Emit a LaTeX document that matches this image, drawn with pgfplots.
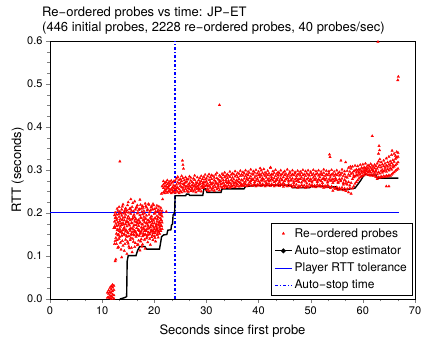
\documentclass[border=0pt]{standalone}
\usepackage{pgfplots}
\pgfplotsset{compat=1.18}
\usepackage{pgfplotstable}
\usepackage{fontspec}
\setmainfont{TeX Gyre Heros}
\definecolor{probered}{RGB}{255,0,0}

\pgfplotstableread{
x a b c d e
11.00 0.003 0.015 nan nan nan
11.25 0.004 0.012 0.020 nan nan
11.50 0.002 0.008 0.016 0.026 nan
11.75 0.006 0.014 0.022 0.030 0.000
12.00 0.003 0.010 0.018 0.027 0.033
12.25 0.001 0.009 0.021 0.031 0.165
12.50 0.088 0.135 0.165 0.188 0.201
12.75 0.128 0.152 0.170 0.183 0.196
13.00 0.119 0.148 0.162 0.178 0.205
13.25 0.140 0.158 0.175 0.191 0.214
13.50 0.131 0.155 0.168 0.186 0.199
13.75 0.097 0.147 0.172 0.194 0.208
14.00 0.124 0.160 0.177 0.189 0.220
14.25 0.112 0.151 0.166 0.183 0.203
14.50 0.138 0.157 0.174 0.196 0.211
14.75 0.105 0.145 0.169 0.181 0.206
15.00 0.129 0.153 0.178 0.192 0.225
15.25 0.118 0.162 0.171 0.187 0.209
15.50 0.142 0.149 0.165 0.198 0.232
15.75 0.109 0.156 0.176 0.185 0.214
16.00 0.133 0.150 0.168 0.193 0.204
16.25 0.121 0.159 0.180 0.190 0.227
16.50 0.145 0.154 0.172 0.186 0.212
16.75 0.125 0.148 0.175 0.199 0.218
17.00 0.136 0.161 0.170 0.184 0.207
17.25 0.113 0.152 0.179 0.195 0.231
17.50 0.139 0.157 0.166 0.188 0.210
17.75 0.127 0.146 0.173 0.197 0.216
18.00 0.148 0.163 0.182 0.191 0.205
18.25 0.117 0.151 0.169 0.186 0.222
18.50 0.141 0.158 0.177 0.194 0.213
18.75 0.132 0.149 0.171 0.183 0.208
19.00 0.150 0.164 0.178 0.196 0.219
19.25 0.126 0.155 0.167 0.189 0.206
19.50 0.144 0.160 0.181 0.192 0.215
19.75 0.137 0.153 0.170 0.185 0.221
20.00 0.146 0.162 0.176 0.198 0.209
20.25 0.134 0.157 0.168 0.187 0.203
20.50 0.149 0.165 0.180 0.193 0.217
20.75 0.143 0.156 0.173 0.190 0.207
21.00 0.152 0.166 0.179 0.197 0.200
21.25 0.158 0.170 0.184 0.195 0.212
21.50 0.163 0.178 0.192 0.205 0.262
}\early

\pgfplotstableread{
x a b c d
12.375 0.168 0.180 0.195 0.128
12.625 0.142 0.175 0.190 0.092
12.875 0.160 0.186 0.210 0.137
13.125 0.150 0.171 0.197 0.121
13.375 0.145 0.181 0.203 0.163
13.625 0.158 0.176 0.200 0.115
13.875 0.153 0.184 0.215 0.135
14.125 0.149 0.173 0.199 0.164
14.375 0.161 0.190 0.207 0.128
14.625 0.147 0.179 0.202 0.160
14.875 0.155 0.187 0.218 0.133
15.125 0.146 0.174 0.201 0.122
15.375 0.159 0.183 0.211 0.137
15.625 0.151 0.177 0.205 0.119
15.875 0.163 0.188 0.223 0.140
16.125 0.148 0.172 0.196 0.157
16.375 0.156 0.185 0.208 0.130
16.625 0.150 0.179 0.214 0.165
16.875 0.160 0.182 0.201 0.127
17.125 0.147 0.176 0.209 0.158
17.375 0.154 0.189 0.219 0.134
17.625 0.161 0.174 0.203 0.122
17.875 0.152 0.184 0.212 0.166
18.125 0.158 0.178 0.199 0.138
18.375 0.149 0.187 0.216 0.160
18.625 0.163 0.175 0.206 0.145
18.875 0.155 0.183 0.221 0.168
19.125 0.151 0.179 0.202 0.140
19.375 0.160 0.186 0.213 0.172
19.625 0.148 0.176 0.208 0.158
19.875 0.157 0.182 0.218 0.166
20.125 0.153 0.188 0.200 0.142
20.375 0.161 0.174 0.211 0.169
20.625 0.150 0.185 0.204 0.160
20.875 0.158 0.178 0.215 0.171
21.125 0.162 0.188 0.206 0.175
21.375 0.170 0.183 0.199 0.245
}\earlymid

\pgfplotstableread{
x a b c d
21.75 0.248 0.258 0.266 0.274
22.00 0.252 0.261 0.269 0.246
22.25 0.255 0.263 0.272 0.250
22.50 0.247 0.259 0.267 0.276
22.75 0.251 0.262 0.270 0.257
23.00 0.254 0.265 0.273 0.249
23.25 0.246 0.256 0.268 0.275
23.50 0.253 0.260 0.271 0.248
23.75 0.250 0.264 0.274 0.258
24.00 0.247 0.262 0.275 0.256
24.25 0.252 0.266 0.280 0.258
24.50 0.249 0.259 0.271 0.284
24.75 0.255 0.268 0.277 0.246
25.00 0.251 0.263 0.279 0.270
25.25 0.248 0.260 0.274 0.286
25.50 0.254 0.267 0.281 0.259
25.75 0.250 0.264 0.276 0.269
26.00 0.256 0.271 0.283 0.261
26.25 0.252 0.262 0.273 0.279
26.50 0.249 0.266 0.278 0.258
26.75 0.255 0.269 0.285 0.263
27.00 0.251 0.260 0.275 0.282
27.25 0.257 0.265 0.272 0.254
27.50 0.250 0.268 0.280 0.261
27.75 0.254 0.263 0.277 0.287
28.00 0.248 0.259 0.271 0.266
28.25 0.256 0.270 0.283 0.262
28.50 0.252 0.264 0.276 0.258
28.75 0.255 0.267 0.281 0.271
29.00 0.250 0.261 0.274 0.286
29.25 0.258 0.269 0.279 0.263
29.50 0.259 0.266 0.284 0.272
29.75 0.262 0.271 0.278 0.289
30.00 0.253 0.265 0.280 0.273
30.25 0.256 0.268 0.285 0.262
30.50 0.251 0.263 0.277 0.290
30.75 0.259 0.272 0.283 0.266
31.00 0.254 0.267 0.279 0.288
31.25 0.257 0.270 0.286 0.261
31.50 0.252 0.264 0.276 0.282
31.75 0.260 0.273 0.289 0.268
32.00 0.255 0.269 0.281 0.293
32.25 0.258 0.266 0.278 0.263
32.50 0.253 0.271 0.287 0.275
32.75 0.261 0.274 0.284 0.267
33.00 0.259 0.268 0.280 0.291
33.25 0.262 0.276 0.288 0.270
33.50 0.258 0.265 0.283 0.294
33.75 0.263 0.272 0.286 0.277
34.00 0.260 0.269 0.281 0.290
34.25 0.264 0.275 0.287 0.271
34.50 0.259 0.270 0.284 0.296
34.75 0.262 0.277 0.289 0.266
35.00 0.261 0.273 0.282 0.292
35.25 0.265 0.278 0.290 0.270
35.50 0.260 0.271 0.285 0.297
35.75 0.263 0.276 0.288 0.268
36.00 0.266 0.274 0.283 0.293
36.25 0.261 0.279 0.291 0.272
36.50 0.264 0.270 0.286 0.298
36.75 0.262 0.277 0.289 0.267
37.00 0.265 0.275 0.287 0.295
37.25 0.263 0.280 0.292 0.270
37.50 0.267 0.273 0.286 0.299
37.75 0.262 0.278 0.290 0.282
38.00 0.266 0.276 0.288 0.296
38.25 0.264 0.281 0.293 0.271
38.50 0.268 0.274 0.285 0.301
38.75 0.263 0.279 0.291 0.277
39.00 0.265 0.277 0.289 0.297
39.25 0.267 0.282 0.294 0.272
39.50 0.262 0.275 0.286 0.300
39.75 0.266 0.280 0.292 0.278
40.00 0.264 0.274 0.288 0.296
40.25 0.268 0.283 0.290 0.271
40.50 0.263 0.276 0.287 0.299
40.75 0.267 0.281 0.293 0.275
41.00 0.265 0.278 0.289 0.302
41.25 0.262 0.273 0.286 0.294
41.50 0.266 0.282 0.291 0.270
41.75 0.264 0.277 0.288 0.298
42.00 0.268 0.280 0.292 0.274
42.25 0.263 0.275 0.287 0.305
42.50 0.267 0.283 0.290 0.279
42.75 0.265 0.276 0.289 0.297
43.00 0.262 0.281 0.293 0.272
43.25 0.266 0.274 0.286 0.300
43.50 0.264 0.279 0.291 0.277
43.75 0.268 0.282 0.288 0.295
44.00 0.263 0.275 0.292 0.271
44.25 0.267 0.280 0.287 0.299
44.50 0.265 0.277 0.290 0.276
44.75 0.261 0.283 0.294 0.270
45.00 0.266 0.274 0.288 0.297
45.25 0.264 0.279 0.291 0.278
45.50 0.262 0.281 0.286 0.301
45.75 0.267 0.276 0.289 0.273
46.00 0.263 0.282 0.293 0.296
46.25 0.265 0.275 0.287 0.277
46.50 0.260 0.280 0.290 0.299
46.75 0.264 0.273 0.288 0.270
47.00 0.261 0.278 0.292 0.295
47.25 0.266 0.281 0.286 0.274
47.50 0.259 0.276 0.289 0.298
47.75 0.263 0.272 0.291 0.279
48.00 0.260 0.279 0.287 0.296
48.25 0.265 0.282 0.293 0.271
48.50 0.261 0.275 0.288 0.300
48.75 0.264 0.280 0.290 0.276
49.00 0.259 0.273 0.286 0.297
49.25 0.263 0.278 0.292 0.269
49.50 0.260 0.281 0.289 0.299
49.75 0.266 0.276 0.287 0.274
50.00 0.262 0.279 0.293 0.296
50.25 0.265 0.274 0.288 0.271
50.50 0.261 0.282 0.291 0.300
50.75 0.264 0.277 0.286 0.278
51.00 0.260 0.280 0.290 0.297
51.25 0.266 0.275 0.292 0.272
51.50 0.262 0.278 0.287 0.299
51.75 0.265 0.283 0.289 0.276
52.00 0.261 0.274 0.291 0.296
52.25 0.264 0.279 0.288 0.270
52.50 0.259 0.281 0.293 0.301
52.75 0.263 0.276 0.286 0.277
53.00 0.260 0.280 0.290 0.298
53.25 0.265 0.273 0.288 0.271
53.50 0.261 0.278 0.292 0.297
53.75 0.258 0.282 0.287 0.275
54.00 0.262 0.275 0.289 0.300
54.25 0.252 0.279 0.291 0.270
54.50 0.259 0.274 0.286 0.296
54.75 0.256 0.281 0.290 0.277
55.00 0.260 0.276 0.288 0.299
55.25 0.254 0.272 0.292 0.270
55.50 0.258 0.279 0.287 0.295
55.75 0.255 0.274 0.289 0.276
56.00 0.259 0.280 0.293 0.301
56.25 0.253 0.270 0.286 0.266
56.50 0.257 0.277 0.290 0.297
56.75 0.251 0.268 0.284 0.273
57.00 0.256 0.266 0.282 0.298
57.25 0.248 0.272 0.289 0.305
57.50 0.258 0.264 0.286 0.296
57.75 0.245 0.270 0.291 0.303
58.00 0.257 0.279 0.293 0.308
58.25 0.262 0.283 0.297 0.287
58.50 0.268 0.285 0.299 0.310
58.75 0.272 0.288 0.301 0.294
59.00 0.276 0.287 0.298 0.309
59.25 0.280 0.291 0.302 0.295
59.50 0.283 0.289 0.300 0.312
59.75 0.285 0.293 0.305 0.297
60.00 0.287 0.296 0.303 0.313
60.25 0.288 0.294 0.306 0.299
60.50 0.292 0.298 0.304 0.315
60.75 0.290 0.297 0.307 0.301
61.00 0.289 0.295 0.303 0.311
61.25 0.288 0.299 0.308 0.296
61.50 0.287 0.294 0.305 0.314
61.75 0.289 0.300 0.302 0.310
62.00 0.286 0.296 0.307 0.298
62.25 0.288 0.293 0.304 0.312
62.50 0.284 0.299 0.309 0.296
62.75 0.279 0.290 0.303 0.315
63.00 0.283 0.295 0.307 0.320
63.25 0.282 0.292 0.311 0.325
63.50 0.285 0.298 0.306 0.318
63.75 0.283 0.294 0.313 0.300
64.00 0.286 0.297 0.309 0.322
64.25 0.284 0.300 0.315 0.305
64.50 0.287 0.296 0.310 0.327
64.75 0.285 0.302 0.318 0.308
65.00 0.288 0.299 0.313 0.331
65.25 0.286 0.304 0.320 0.310
65.50 0.289 0.301 0.316 0.335
65.75 0.292 0.306 0.323 0.312
66.00 0.295 0.308 0.319 0.338
66.25 0.298 0.311 0.326 0.333
66.50 0.300 0.314 0.329 0.342
66.75 0.303 0.318 0.331 0.340
}\main

\pgfplotstableread{
x y
13.40 0.320
25.40 0.322
25.50 0.312
25.60 0.303
22.30 0.203
21.60 0.232
32.50 0.451
40.30 0.304
42.30 0.306
53.60 0.336
53.70 0.330
55.80 0.322
56.70 0.318
57.60 0.308
61.80 0.379
63.10 0.356
63.20 0.346
63.00 0.338
62.90 0.598
66.70 0.509
66.80 0.517
65.60 0.345
64.50 0.262
65.00 0.262
}\outl

\pgfplotstableread{
x y
13.40 0.000
14.00 0.002
14.50 0.004
14.70 0.006
14.80 0.088
15.00 0.101
16.50 0.101
16.80 0.113
17.20 0.122
18.20 0.122
18.50 0.116
21.00 0.116
21.20 0.130
21.40 0.145
21.80 0.149
22.40 0.150
22.60 0.160
23.20 0.161
23.30 0.172
23.50 0.174
23.60 0.195
23.90 0.200
24.00 0.240
26.00 0.240
26.20 0.244
26.60 0.244
26.80 0.241
29.30 0.241
29.50 0.256
29.90 0.256
30.10 0.248
32.80 0.248
33.00 0.256
37.20 0.256
37.50 0.262
40.00 0.264
44.00 0.265
46.20 0.264
46.50 0.259
49.80 0.259
50.10 0.262
52.50 0.262
53.00 0.260
54.80 0.261
55.20 0.254
57.00 0.254
57.50 0.256
58.50 0.258
59.00 0.266
59.60 0.276
60.00 0.284
60.50 0.291
61.00 0.288
62.50 0.288
62.80 0.281
66.80 0.281
}\est

\pgfplotsset{probe/.style={only marks, mark=triangle*, mark size=1.45pt,
  mark options={draw=probered, fill=probered, line width=0.3pt}, color=probered},
  tolline/.style={blue, line width=1pt},
  timeline/.style={color=blue, draw=blue, line width=1.3pt, dashdotted}}

\begin{document}
\begin{tikzpicture}
\path (-50pt,-48pt) rectangle (380pt,299pt);
\begin{axis}[
  scale only axis, width=365pt, height=258pt, clip=false,
  xmin=0, xmax=70, ymin=0, ymax=0.6,
  xtick={0,10,20,30,40,50,60,70},
  ytick={0,0.1,0.2,0.3,0.4,0.5,0.6},
  minor x tick num=2, minor y tick num=3,
  tick align=outside, xtick pos=bottom, ytick pos=left,
  major tick length=4pt, minor tick length=2.5pt,
  /pgf/number format/assume math mode=true,
  yticklabel style={/pgf/number format/.cd, fixed, fixed zerofill, precision=1},
  ticklabel style={font=\fontsize{11}{13}\selectfont},
  label style={font=\fontsize{13}{15}\selectfont},
  xlabel={Seconds since first probe},
  ylabel={RTT (seconds)},
  xlabel style={at={(axis description cs:0.5,-0.124)}, anchor=center},
  ylabel style={at={(axis description cs:-0.088,0.5)}, anchor=center},
  axis line style={line width=0.7pt},
  legend style={at={(axis description cs:0.992,0.013)}, anchor=south east,
    font=\fontsize{12}{14}\selectfont, draw=black, cells={anchor=west},
    row sep=3pt, inner xsep=3pt, inner ysep=3pt},
]
\addplot[probe] table[x=x,y=a] {\early};
\addlegendentry{Re−ordered probes}
\addplot[probe, forget plot] table[x=x,y=b] {\early};
\addplot[probe, forget plot] table[x=x,y=c] {\early};
\addplot[probe, forget plot] table[x=x,y=d] {\early};
\addplot[probe, forget plot] table[x=x,y=e] {\early};
\addplot[probe, forget plot] table[x=x,y=a] {\earlymid};
\addplot[probe, forget plot] table[x=x,y=b] {\earlymid};
\addplot[probe, forget plot] table[x=x,y=c] {\earlymid};
\addplot[probe, forget plot] table[x=x,y=d] {\earlymid};
\addplot[probe, forget plot] table[x=x,y=a] {\main};
\addplot[probe, forget plot] table[x=x,y=b] {\main};
\addplot[probe, forget plot] table[x=x,y=c] {\main};
\addplot[probe, forget plot] table[x=x,y=d] {\main};
\addplot[probe, forget plot] table[x=x,y=y] {\outl};
\addplot[tolline, forget plot] coordinates {(0,0.2) (66.9,0.2)};
\addplot[timeline, forget plot] coordinates {(24,0) (24,0.6)};
\addplot[color=black, line width=1.4pt, no marks,
  legend image code/.code={\draw[black, line width=1.1pt] (0cm,0cm) -- (0.6cm,0cm);
    \fill[black] (0.3cm,0cm) circle (1.6pt);}] table[x=x,y=y] {\est};
\addlegendentry{Auto−stop estimator}
\addlegendimage{tolline}
\addlegendentry{Player RTT tolerance}
\addlegendimage{timeline}
\addlegendentry{Auto−stop time}
\end{axis}
\node[anchor=base west, inner sep=0pt, font=\fontsize{13}{15}\selectfont] at (-8pt,282.5pt) {Re−ordered probes vs time: JP−ET};
\node[anchor=base west, inner sep=0pt, font=\fontsize{13}{15}\selectfont] at (-8pt,267pt) {(446 initial probes, 2228 re−ordered probes, 40 probes/sec)};
\end{tikzpicture}
\end{document}
